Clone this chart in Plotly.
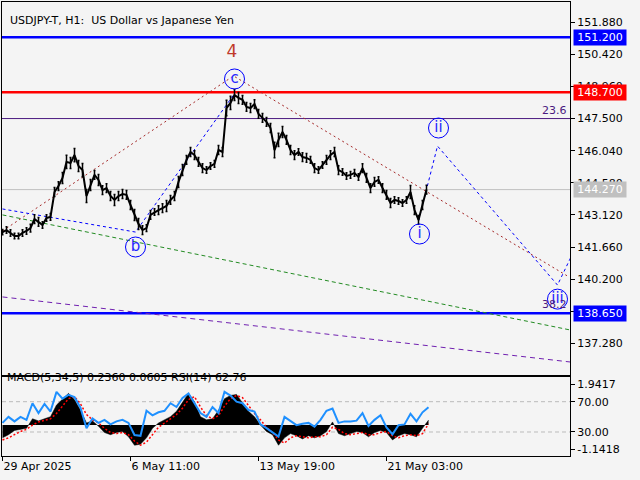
import plotly.graph_objects as go

# hourly bars, bar 0 = 29 Apr 2025, one price sample every 4 bars
price_bars = list(range(0, 425, 4))
price_close = [142.34, 142.43, 142.30, 142.16, 142.16, 142.30, 142.39, 142.52, 142.93, 142.80,
               142.66, 142.98, 143.03, 144.16, 144.43, 144.80, 145.53, 145.48, 145.84, 145.34,
               145.16, 143.98, 144.48, 144.94, 144.71, 144.25, 144.34, 143.98, 143.80, 143.98,
               144.07, 144.03, 143.57, 143.12, 142.71, 142.43, 142.52, 143.12, 143.25, 143.34,
               143.43, 143.53, 143.80, 143.98, 144.62, 145.16, 145.62, 145.98, 145.84, 145.53,
               145.25, 145.16, 145.34, 145.44, 146.07, 145.98, 147.98, 148.21, 148.57, 148.44,
               148.35, 148.03, 147.98, 148.16, 147.71, 147.53, 147.35, 147.07, 146.07, 146.53,
               146.89, 146.53, 146.07, 145.84, 145.98, 145.75, 145.71, 145.62, 145.25, 145.16,
               145.39, 145.62, 145.84, 145.98, 145.16, 145.07, 144.89, 144.94, 145.03, 144.84,
               145.25, 144.80, 144.34, 144.62, 144.71, 144.34, 144.03, 143.66, 143.80, 143.75,
               143.66, 143.80, 144.16, 143.34, 142.89, 143.57, 144.27]
# half of the high-low range around each sample
price_half_range = [0.12, 0.15, 0.15, 0.12, 0.12, 0.15, 0.15, 0.18, 0.2, 0.2, 0.15, 0.15, 0.15,
                    0.2, 0.2, 0.25, 0.3, 0.25, 0.3, 0.25, 0.3,
                    0.3, 0.25, 0.2, 0.25, 0.2, 0.2, 0.2, 0.25, 0.2, 0.2, 0.2,
                    0.2, 0.25, 0.25, 0.2, 0.15, 0.2, 0.15, 0.2, 0.2, 0.25, 0.2, 0.2,
                    0.25, 0.25, 0.2, 0.2, 0.2, 0.2, 0.2, 0.15, 0.15, 0.15, 0.2, 0.2,
                    0.35, 0.3, 0.25, 0.25, 0.2, 0.2, 0.2, 0.2, 0.2, 0.2, 0.2, 0.2,
                    0.35, 0.3, 0.25, 0.2, 0.2, 0.2, 0.15, 0.2, 0.2, 0.15, 0.2, 0.15,
                    0.15, 0.2, 0.2, 0.2, 0.2, 0.15, 0.15, 0.15, 0.15, 0.15, 0.2, 0.2,
                    0.2, 0.2, 0.15, 0.2, 0.2, 0.2, 0.15, 0.15, 0.15, 0.15, 0.3, 0.2, 0.2, 0.2, 0.2]

# oscillators, one sample every 6 bars
osc_bars = list(range(0, 427, 6))
macd_hist = [-0.6, -0.45, -0.25, -0.2, -0.15, 0.3, 0.2, 0.3, 0.4, 0.95,
             1.25, 1.5, 1.2, 0.7, 0.1, 0.2, -0.05, -0.35, -0.45, -0.35,
             -0.3, -0.55, -0.95, -0.9, -0.6, -0.15, 0.1, 0.25, 0.4, 0.65,
             1.1, 1.5, 1.1, 0.4, 0.25, 0.3, 0.7, 1.25, 1.4, 1.45,
             1.05, 0.65, 0.4, 0.0, -0.3, -0.45, -0.95, -0.6, -0.4, -0.5,
             -0.65, -0.5, -0.6, -0.5, -0.3, 0.15, -0.4, -0.5, -0.4, -0.3,
             -0.35, -0.55, -0.35, -0.25, -0.35, -0.7, -0.5, -0.4, -0.45, -0.55,
             -0.15, 0.236]
macd_signal = [-0.7, -0.6, -0.45, -0.3, -0.2, 0.0, 0.15, 0.22, 0.3, 0.55,
               0.9, 1.25, 1.35, 1.0, 0.5, 0.25, 0.1, -0.15, -0.35, -0.4,
               -0.35, -0.45, -0.75, -0.95, -0.8, -0.45, -0.1, 0.1, 0.3, 0.5,
               0.8, 1.2, 1.35, 0.85, 0.45, 0.3, 0.45, 0.9, 1.25, 1.4,
               1.3, 0.9, 0.55, 0.25, -0.1, -0.35, -0.7, -0.85, -0.6, -0.5,
               -0.55, -0.6, -0.55, -0.55, -0.45, -0.1, -0.2, -0.4, -0.45, -0.4,
               -0.35, -0.45, -0.45, -0.35, -0.3, -0.5, -0.6, -0.5, -0.45, -0.5,
               -0.4, 0.0605]
rsi = [42, 50, 44, 50, 46, 68, 55, 67, 57, 83,
       74, 79, 76, 62, 35, 48, 42, 46, 40, 44,
       46, 42, 26, 25, 58, 52, 56, 58, 68, 63,
       75, 81, 68, 55, 50, 63, 55, 83, 78, 70,
       68, 59, 57, 40, 35, 30, 24, 50, 45, 39,
       41, 42, 37, 46, 58, 61, 42, 44, 44, 45,
       55, 38, 46, 52, 36, 27, 39, 40, 54, 44,
       56, 62.76]

# wave lines (bar, price)
red_bars = [0, 231, 565]
red_prices = [142.39, 149.44, 140.34]
blue1_bars = [0, 133, 231]
blue1_prices = [143.39, 142.34, 148.57]
blue2_bars = [416, 435, 555, 568]
blue2_prices = [142.84, 146.25, 139.93, 141.16]
green_bars = [0, 568]
green_prices = [143.12, 137.885]
purple_bars = [0, 568]
purple_prices = [139.39, 136.43]

wave_labels = ["c", "b", "i", "ii", "iii"]
wave_bars = [232, 133, 417, 436, 555]
wave_prices = [149.30, 141.66, 142.25, 147.07, 139.29]

levels = [151.20, 148.70, 144.27, 138.65]
level_colors = ["#0000FF", "#FF0000", "#C0C0C0", "#0000FF"]
fib_level = 147.50

price_ticks = [151.88, 150.42, 148.96, 147.50, 146.04, 144.58, 143.12, 141.66, 140.20, 138.74, 137.28]
time_ticks = [0, 128, 256, 384]
time_labels = ["29 Apr 2025", "6 May 11:00", "13 May 19:00", "21 May 03:00"]

FONT = "DejaVu Sans"
BG = "#F4F4F4"

fig = go.Figure()

def add_line(xs, ys, color, dash):
    fig.add_trace(go.Scatter(x=xs, y=ys, xaxis="x2", yaxis="y2", mode="lines",
                             line=dict(color=color, width=1, dash=dash), hoverinfo="skip"))

add_line(green_bars, green_prices, "#228B22", "4px,3px")
add_line(purple_bars, purple_prices, "#7020B0", "5px,4px")
add_line(red_bars, red_prices, "#A52A2A", "2px,3px")
add_line(blue1_bars, blue1_prices, "#0000FF", "3px,3px")
add_line(blue2_bars, blue2_prices, "#0000FF", "3px,3px")

fig.add_trace(go.Scatter(x=price_bars, y=price_close, xaxis="x2", yaxis="y2", mode="lines",
                         line=dict(color="black", width=2),
                         error_y=dict(type="data", array=price_half_range, symmetric=True,
                                      color="black", thickness=1.5, width=1)))

fig.add_trace(go.Scatter(x=wave_bars, y=wave_prices, xaxis="x2", yaxis="y2", mode="markers+text",
                         text=wave_labels, textposition="middle center",
                         textfont=dict(family=FONT, size=15, color="#2828FF"),
                         marker=dict(symbol="circle-open", size=20, color="#0000FF",
                                     line=dict(width=1, color="#0000FF"))))
fig.add_trace(go.Scatter(x=[229.5], y=[150.48], xaxis="x2", yaxis="y2", mode="text",
                         text=["4"], textfont=dict(family=FONT, size=17, color="#C0392B")))

# MACD / RSI panel
fig.add_trace(go.Scatter(x=osc_bars, y=macd_hist, xaxis="x", yaxis="y", mode="lines",
                         fill="tozeroy", fillcolor="black", line=dict(color="black", width=0.5)))
fig.add_trace(go.Scatter(x=osc_bars, y=macd_signal, xaxis="x", yaxis="y", mode="lines",
                         line=dict(color="#FF0000", width=1.5, dash="2px,2px")))
fig.add_trace(go.Scatter(x=osc_bars, y=rsi, xaxis="x", yaxis="y3", mode="lines",
                         line=dict(color="#1E90FF", width=2)))

shapes = []
for lv, col in zip(levels, level_colors):
    w = 1 if col == "#C0C0C0" else 2.5
    shapes.append(dict(type="line", xref="x2 domain", x0=0, x1=1, yref="y2", y0=lv, y1=lv,
                       line=dict(color=col, width=w), layer="below"))
shapes.append(dict(type="line", xref="x2 domain", x0=0, x1=1, yref="y2", y0=fib_level, y1=fib_level,
                   line=dict(color="#4B1A80", width=1), layer="below"))
for lv in [70, 30]:
    shapes.append(dict(type="line", xref="x domain", x0=0, x1=1, yref="y3", y0=lv, y1=lv,
                       line=dict(color="#BBBBBB", width=1, dash="4px,3px"), layer="below"))

annotations = []
for lv, col in zip(levels, level_colors):
    annotations.append(dict(xref="paper", x=1.0053, xanchor="left", yref="y2", y=lv,
                            text=f"{lv:.3f}", showarrow=False, bgcolor=col, borderpad=1,
                            width=50, font=dict(family=FONT, size=11, color="white")))
annotations.append(dict(xref="x2", x=566, xanchor="right", yref="y2", y=fib_level, yanchor="bottom",
                        text="23.6", showarrow=False, font=dict(family=FONT, size=11, color="#4B1A80")))
annotations.append(dict(xref="x2", x=566, xanchor="right", yref="y2", y=levels[3], yanchor="bottom",
                        text="38.2", showarrow=False, font=dict(family=FONT, size=11, color="#4B1A80")))
annotations.append(dict(xref="paper", x=0.0106, xanchor="left", yref="paper", y=0.978,
                        text="USDJPY-T, H1:\u00a0 US Dollar vs Japanese Yen", showarrow=False,
                        font=dict(family=FONT, size=11, color="black")))
annotations.append(dict(xref="paper", x=0.006, xanchor="left", yref="paper", y=0.154,
                        text="MACD(5,34,5) 0.2360 0.0605 RSI(14) 62.76", showarrow=False,
                        font=dict(family=FONT, size=11, color="black")))

axis_font = dict(family=FONT, size=11, color="black")
fig.update_layout(
    width=640, height=480, showlegend=False,
    paper_bgcolor=BG, plot_bgcolor=BG,
    margin=dict(l=2, r=70, t=2, b=24),
    shapes=shapes, annotations=annotations,
    xaxis=dict(domain=[0, 1], anchor="y", range=[-0.5, 567.5], tickvals=time_ticks, ticktext=time_labels,
               ticks="outside", ticklen=4, tickcolor="black", ticklabelposition="outside right",
               tickfont=axis_font, showline=True, linecolor="black", mirror=True,
               showgrid=False, zeroline=False),
    xaxis2=dict(matches="x", anchor="y2", showticklabels=False, showline=True, linecolor="black",
                mirror=True, showgrid=False, zeroline=False),
    yaxis=dict(domain=[0, 0.174], range=[-1.458, 2.272], side="right", tickvals=[1.9417, -1.1418],
               ticktext=["1.9417", "-1.1418"], ticks="outside", ticklen=4, tickcolor="black",
               tickfont=axis_font, showline=True, linecolor="black", mirror=True,
               showgrid=False, zeroline=False),
    yaxis3=dict(overlaying="y", anchor="x", range=[-1.7, 102.6], side="right", tickvals=[70, 30],
                ticktext=["70.00", "30.00"], ticks="outside", ticklen=4, tickcolor="black",
                tickfont=axis_font, showgrid=False, zeroline=False),
    yaxis2=dict(domain=[0.1784, 1], anchor="x2", range=[135.84, 152.80], side="right",
                tickvals=price_ticks, tickformat=".3f", ticks="outside", ticklen=4, tickcolor="black",
                tickfont=axis_font, showline=True, linecolor="black", mirror=True,
                showgrid=False, zeroline=False),
)

# the page body has a default 8px margin; drop it so the chart fills the window
fig.write_html("out.html", config={"displayModeBar": False},
               post_script="document.body.style.margin='0';")
